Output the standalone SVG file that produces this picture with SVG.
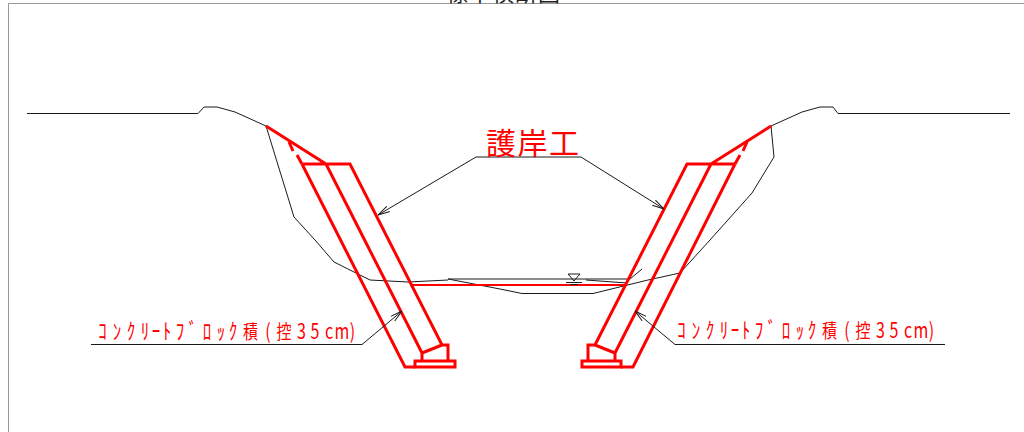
<svg xmlns="http://www.w3.org/2000/svg" width="1024" height="432" viewBox="0 0 1024 432">
<style>
.k{fill:none;stroke:#1a1a1a;stroke-width:1;stroke-linejoin:round}
.r{fill:none;stroke:#ff0000;stroke-width:3;stroke-linejoin:miter}
.r2{fill:none;stroke:#ff0000;stroke-width:2}
.f{fill:none;stroke:#999;stroke-width:1}
.t{font-family:"Noto Sans CJK JP","Noto Sans",sans-serif;fill:#ff0000}
.l{font-size:17px;text-anchor:middle}
.j{font-size:15px}
.d{font-size:16px}
.h{font-size:30px;letter-spacing:1.500px}
.c{font-family:"Noto Sans CJK JP",sans-serif;font-size:22px;letter-spacing:1px;fill:#222}
</style>
<defs>
<marker id="a" viewBox="0 0 12 8" refX="12" refY="4" markerWidth="12" markerHeight="8" markerUnits="userSpaceOnUse" orient="auto"><path d="M0 1L12 4L0 7" fill="none" stroke="#1a1a1a" stroke-width="1"/></marker>
</defs>
<rect width="1024" height="432" fill="#fff"/>
<g id="frame">
<path class="f" d="M8.500 432V3.500H1024"/>
<text class="c" x="446" y="1">標準横断図</text>
</g>
<g id="ground">
<path class="k" d="M27 113.500H198L204 107H217L235 112L266 126L294 217L315 240L334 262L370 280L408 282L448 280"/>
<path class="k" d="M1010 113.500H838L833 107H820L802 112L771 126L774 157L752 193L710 240L680 273L648 280L593 293.500H522L500 289L448 279H630L642 269"/>
<path class="k" d="M586 280L627 283"/>
</g>
<g id="water">
<path class="r2" d="M410 285H627"/>
<path class="k" d="M568 274H580L574 281Z"/>
<path class="k" d="M566 282.500H582M570 284.500H578"/>
</g>
<g id="revetment-left">
<path class="r" d="M266 126L326 164M303 164H350L442 345H448V361M302 164L405 367H415M326 164L422 353L442 345M422 353V361"/>
<path class="r" d="M289 142L293 151M297 155L302 164"/>
<rect class="r" x="415" y="361" width="40" height="6"/>
</g>
<g id="revetment-right">
<path class="r" d="M771 126L711 164M735 164H687L595 345H588V361M735 164L633 367H621M711 164L615 353L595 345M615 353V361"/>
<path class="r" d="M747 142L743 151M740 155L735 164"/>
<rect class="r" x="582" y="361" width="39" height="6"/>
</g>
<g id="connectors">
<path class="k" marker-end="url(#a)" d="M581 157H476L378 215"/>
<path class="k" marker-end="url(#a)" d="M581 157L664 209"/>
<path class="k" marker-end="url(#a)" d="M91 344.500H362L402 311"/>
<path class="k" marker-end="url(#a)" d="M945 344.500H675L635 311"/>
</g>
<g id="label-title"><text class="t h" x="486" y="154">護岸工</text></g>
<g id="label-left" transform="translate(0 339) scale(1 1.300)"><text class="t l"><tspan x="102.500 117 131 145 156 167 180 193 207 221 233">ｺﾝｸﾘｰﾄﾌﾞﾛｯｸ</tspan><tspan class="j" x="250.500">積</tspan><tspan class="d" x="268">(</tspan><tspan class="j" x="284">控</tspan><tspan class="d" x="301.500 315 329 342 352.500">35cm)</tspan></text></g>
<g id="label-right" transform="translate(579 338) scale(1 1.300)"><text class="t l"><tspan x="102.500 117 131 145 156 167 180 193 207 221 233">ｺﾝｸﾘｰﾄﾌﾞﾛｯｸ</tspan><tspan class="j" x="250.500">積</tspan><tspan class="d" x="268">(</tspan><tspan class="j" x="284">控</tspan><tspan class="d" x="301.500 315 329 342 352.500">35cm)</tspan></text></g>
</svg>
